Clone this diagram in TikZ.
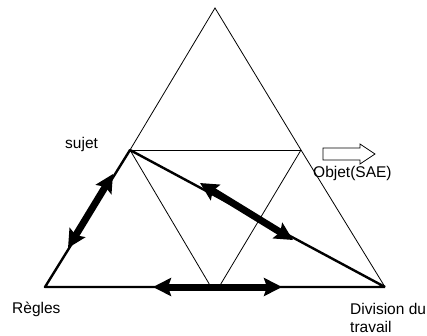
\documentclass[tikz,border=0pt]{standalone}
\usepackage{fontspec}
\setmainfont{Liberation Sans}
\usetikzlibrary{arrows.meta}
\tikzset{
	thinline/.style={line width=0.8pt},
	thickline/.style={line width=2.4pt,line join=round},
	bigarrow/.style={line width=7pt,{Stealth[length=18pt,width=18pt,inset=3pt]}-{Stealth[length=18pt,width=18pt,inset=3pt]}},
	lbl/.style={font=\fontsize{15.5}{18}\selectfont,inner sep=0pt}
}
\begin{document}
\begin{tikzpicture}[x=1pt,y=-1pt]
		\useasboundingbox (0,0) rectangle (427,335);
		% sommets du triangle
		\coordinate (top) at (215,8);
		\coordinate (regles) at (45,287);
		\coordinate (division) at (385,287);
		\coordinate (sujet) at (130,150);
		\coordinate (objet) at (301,150);
		\coordinate (basea) at (211,287);
		\coordinate (baseb) at (219,287);
		\draw[thinline] (sujet) -- (top) -- (objet) -- (division);
		\draw[thinline] (sujet) -- (objet);
		\draw[thinline] (sujet) -- (basea);
		\draw[thinline] (objet) -- (baseb);
		\draw[thickline] (division) -- (regles) -- (sujet) -- (division);
		% fleches doubles
		\coordinate (g1) at (68,248);
		\coordinate (g2) at (113,174);
		\coordinate (d1) at (200,183);
		\coordinate (d2) at (293,240);
		\coordinate (b1) at (153,287);
		\coordinate (b2) at (282,287);
		\draw[bigarrow] (g1) -- (g2);
		\draw[bigarrow] (d1) -- (d2);
		\draw[bigarrow] (b1) -- (b2);
		% fleche creuse vers l'objet
		\coordinate (fleche) at (323,154);
		\draw[thinline,line join=miter] (fleche) ++(0,-6) -- ++(37,0) -- ++(0,-4) -- ++(15,10) -- ++(-15,10) -- ++(0,-4) -- ++(-37,0) -- cycle;
		% etiquettes
		\node[lbl,anchor=base west] (lsujet) at (65,148) {sujet};
		\node[lbl,anchor=base west] (lobjet) at (313,177) {Objet(SAE)};
		\node[lbl,anchor=base west] (lregles) at (12,313) {Règles};
		\node[lbl,anchor=north west,align=left] (ldivision) at (350,303) {Division du\\travail};
\end{tikzpicture}
\end{document}
